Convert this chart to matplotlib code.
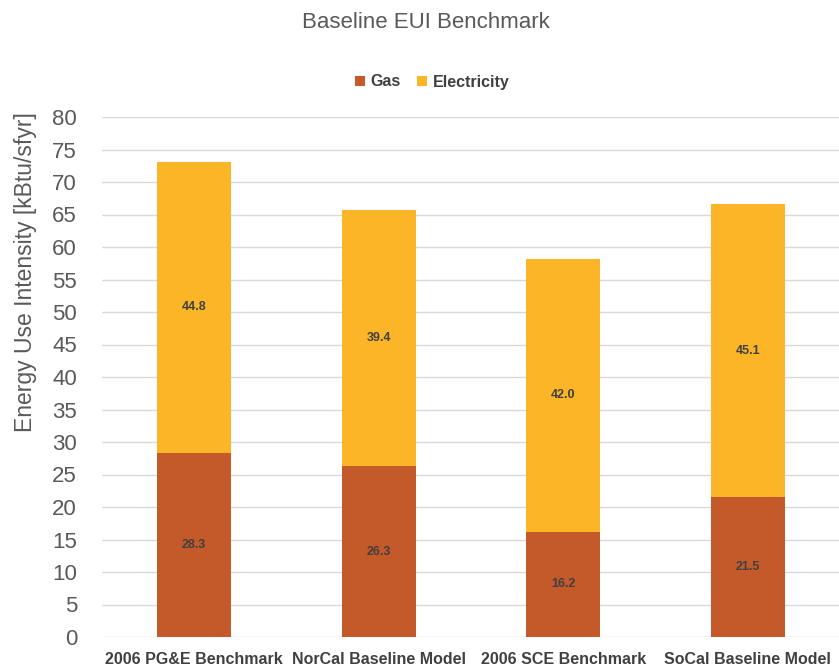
import matplotlib
matplotlib.use("Agg")
import matplotlib.pyplot as plt
import numpy as np

categories = ["2006 PG&E Benchmark", "NorCal Baseline Model",
              "2006 SCE Benchmark", "SoCal Baseline Model"]
gas = [28.3, 26.3, 16.2, 21.5]
electricity = [44.8, 39.4, 42.0, 45.1]
y_ticks = list(range(0, 85, 5))

plt.rcParams["font.family"] = ["Liberation Sans", "DejaVu Sans"]

gas_color = "#C4592A"
elec_color = "#FDB528"
text_gray = "#595959"
dark = "#404040"

W, H = 839, 668
fig = plt.figure(figsize=(W / 100, H / 100), dpi=100)
# plot area in pixels: left 102, right edge of figure, zero line 637, 80 line 117
ax = fig.add_axes([102 / W, (H - 637) / H, 1 - 102 / W, (637 - 117) / H])

x = np.arange(len(categories))
w = 0.4
gas_bars = ax.bar(x, gas, w, color=gas_color, label="Gas", zorder=3)
elec_bars = ax.bar(x, electricity, w, bottom=gas, color=elec_color,
                   label="Electricity", zorder=3)

for i in range(len(categories)):
    ax.text(x[i], gas[i] / 2, f"{gas[i]:.1f}", ha="center", va="center",
            fontsize=9, fontweight="bold", color=dark, zorder=4)
    ax.text(x[i], gas[i] + electricity[i] / 2, f"{electricity[i]:.1f}",
            ha="center", va="center", fontsize=9, fontweight="bold",
            color=dark, zorder=4)

ax.set_ylim(0, 80)
ax.set_xlim(-0.5, 3.495)
ax.set_yticks(y_ticks)
ax.set_yticklabels([str(t) for t in y_ticks], fontsize=16, color=text_gray)
ax.set_xticks(x)
ax.set_xticklabels(categories, fontsize=11.5, fontweight="bold", color=dark)
ax.tick_params(length=0, axis="both")
ax.tick_params(axis="x", pad=11)
ax.tick_params(axis="y", pad=18)
ax.grid(axis="y", color="#D9D9D9", linewidth=1.0, zorder=0)
for s in ax.spines.values():
    s.set_visible(False)

fig.text(26 / W, 1 - 272 / H, "Energy Use Intensity [kBtu/sfyr]",
         rotation=90, ha="center", va="center", fontsize=16.5, color=text_gray)

fig.text(426 / W, 1 - 22 / H, "Baseline EUI Benchmark", ha="center",
         va="center", fontsize=16, color=text_gray)
fig.legend(handles=[gas_bars, elec_bars], labels=["Gas", "Electricity"],
           loc="center", bbox_to_anchor=(432 / W, 1 - 82 / H), ncol=2,
           frameon=False, prop={"size": 11.5, "weight": "bold"},
           labelcolor=dark, handlelength=0.65, handleheight=0.65,
           handletextpad=0.35, columnspacing=1.0)

fig.savefig("out.png", dpi=100)
